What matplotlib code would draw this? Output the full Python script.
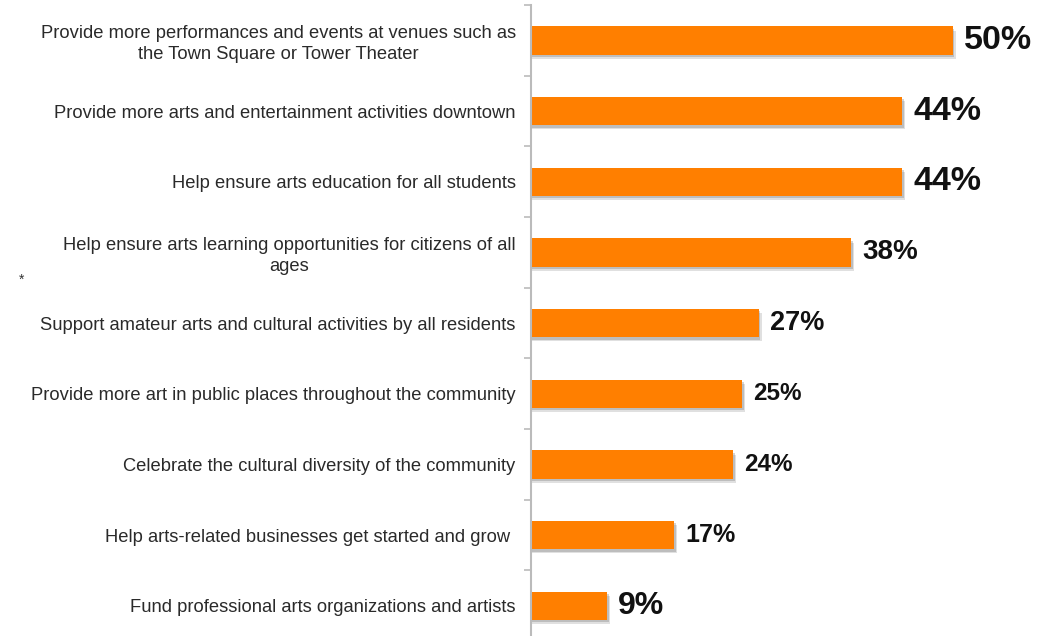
import matplotlib.pyplot as plt
import numpy as np

plt.rcParams['font.family'] = ['Liberation Sans', 'DejaVu Sans']

# survey responses, top to bottom
categories = [
    "Provide more performances and events at venues such as\nthe Town Square or Tower Theater",
    "Provide more arts and entertainment activities downtown",
    "Help ensure arts education for all students",
    "Help ensure arts learning opportunities for citizens of all\nages",
    "Support amateur arts and cultural activities by all residents",
    "Provide more art in public places throughout the community",
    "Celebrate the cultural diversity of the community",
    "Help arts-related businesses get started and grow ",
    "Fund professional arts organizations and artists",
]
values = [50, 44, 44, 38, 27, 25, 24, 17, 9]

# label font sizes (autoscaled in the original deck)
label_sizes = [24.5, 24.5, 24.5, 20, 19.5, 17.5, 17.5, 18, 23]

W, H = 1037, 636
fig = plt.figure(figsize=(W / 100, H / 100), dpi=100)
ax = fig.add_axes([531 / W, -0.008, 1 - 531 / W, 1.0])

y = np.arange(len(values))
bar_h = 0.4

# soft drop shadow under each bar
for dx, dy, a in [(0.35, 0.06, 0.18), (0.2, 0.035, 0.25)]:
    ax.barh(y + dy, np.array(values) + dx, height=bar_h, left=0,
            color='#555555', alpha=a, zorder=1)
ax.barh(y, values, height=bar_h, color='#FF7F00', zorder=2)

for yi, v, fs in zip(y, values, label_sizes):
    ax.text(v + 1.3, yi, f"{v}%", va='center', ha='left',
            fontsize=fs, fontweight='bold', color='#111111')

ax.set_ylim(len(values) - 0.5, -0.5)
ax.set_xlim(0, 60)

ax.set_yticks(y)
ax.set_yticklabels(categories, fontsize=13.2, color='#2a2a2a',
                   multialignment='center', linespacing=1.3)
ax.set_yticks(np.arange(len(values) + 1) - 0.5, minor=True)
ax.tick_params(axis='y', which='major', length=0, pad=11)
ax.tick_params(axis='y', which='minor', length=5, color='#BBBBBB', width=1.2)
ax.set_xticks([])

for s in ['top', 'right', 'bottom']:
    ax.spines[s].set_visible(False)
ax.spines['left'].set_color('#BBBBBB')
ax.spines['left'].set_linewidth(1.5)

fig.text(19 / W, 1 - 284 / H, "*", fontsize=10, color='#333333')

fig.savefig('out.png', dpi=100)
